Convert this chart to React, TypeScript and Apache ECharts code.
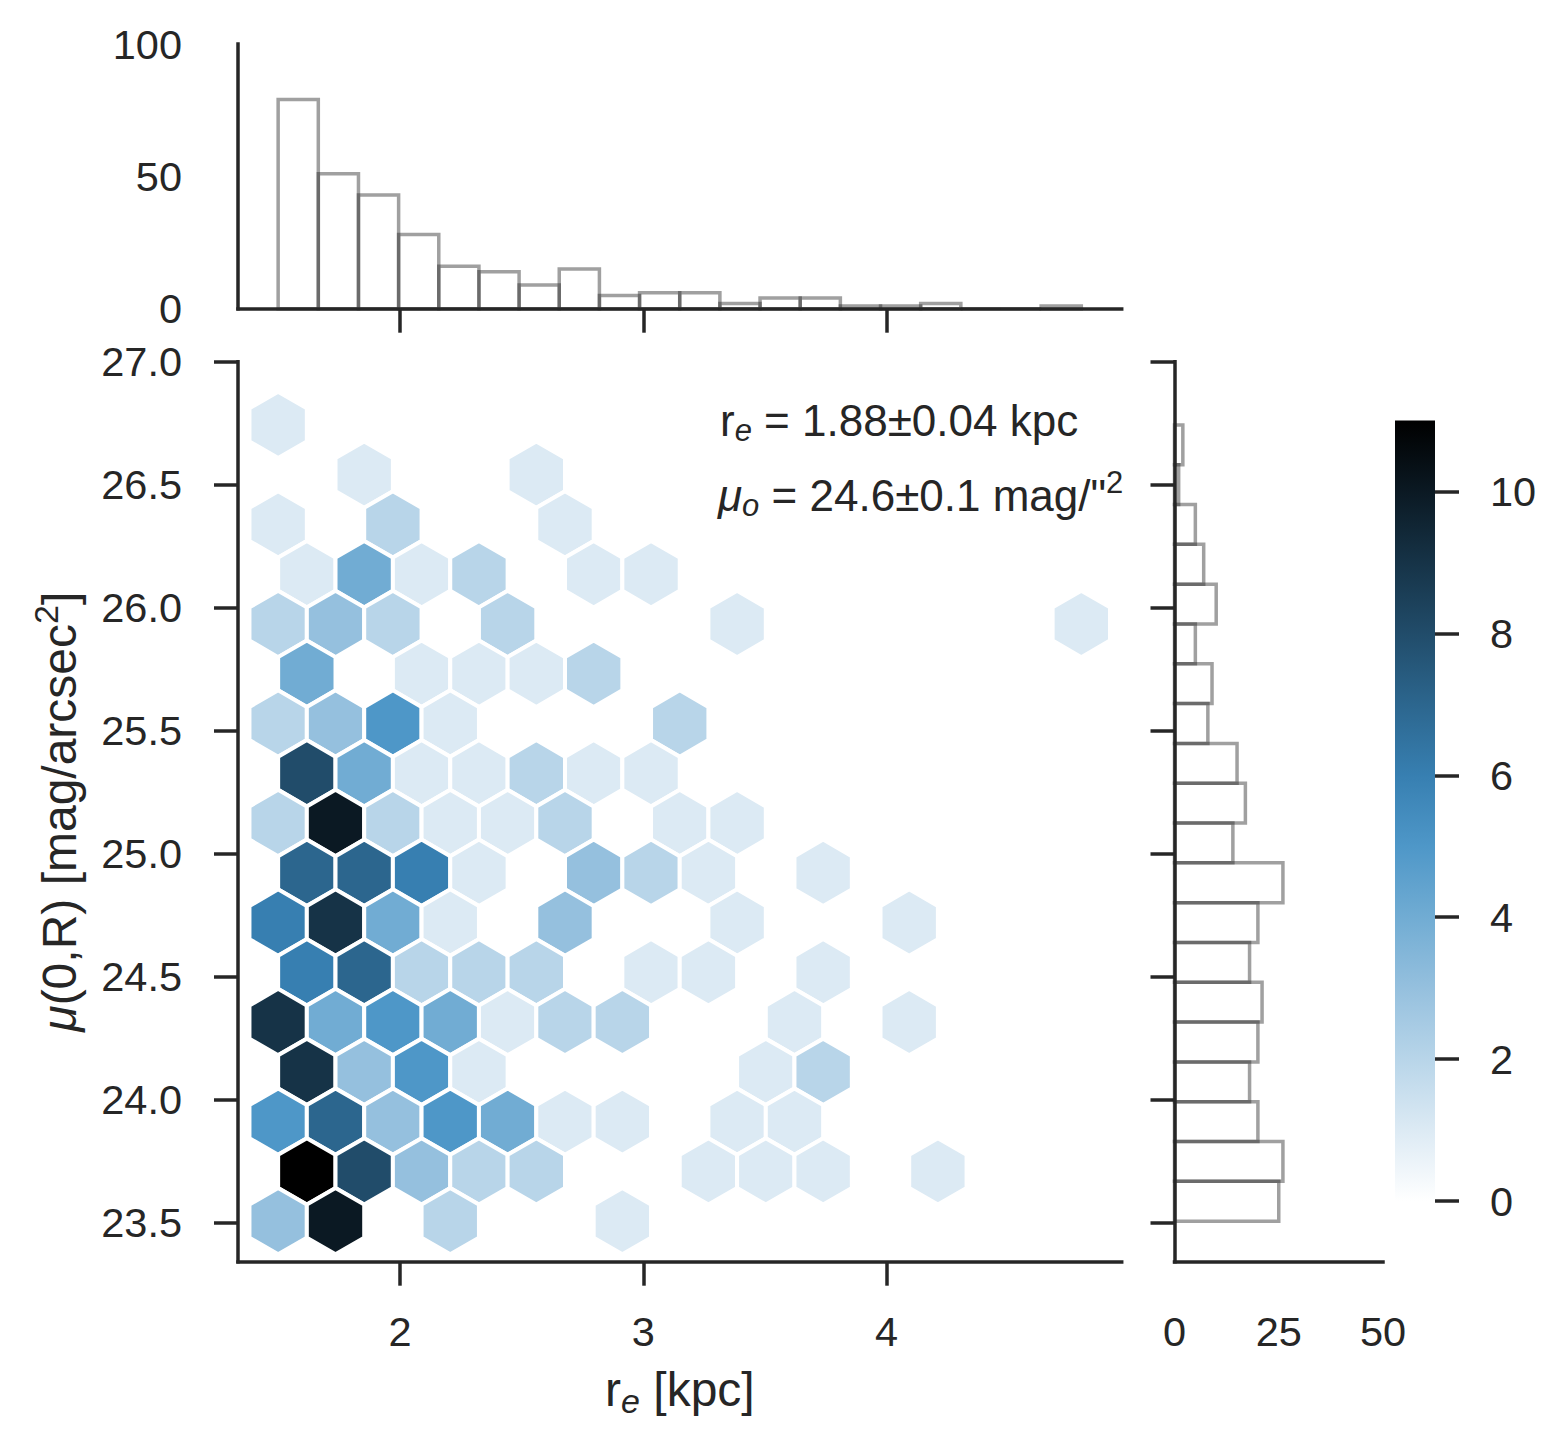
import React, { useEffect, useRef } from "react";
import * as echarts from "echarts";

const FONT = "'Liberation Sans', Arial, Helvetica, sans-serif";
const INK = "#262626";

// ---- axis extents and ticks ----
const X_RANGE = [1.334, 4.966];
const Y_RANGE = [23.34, 27.0];
const X_TICKS = [2, 3, 4];
const Y_TICKS = [23.5, 24.0, 24.5, 25.0, 25.5, 26.0, 26.5, 27.0];
const TOP_HIST_RANGE = [0, 100];
const RIGHT_HIST_RANGE = [0, 50];
const CBAR_TICKS = [0, 2, 4, 6, 8, 10];

// ---- hexbin grid (matplotlib style: gridsize 14) ----
const HEX_X_MIN = 1.499;
const HEX_X_MAX = 4.8;
const HEX_NX = 14;
const HEX_Y_MIN = 23.505;
const HEX_Y_MAX = 26.743;
const HEX_NY = 8;
const HEX_BASE_COLOR = "#3274a1";

// hex cells in half-cell units: x = xmin + col2*sx/2, y = ymin + row2*sy/2
const HEX_COL2 = [
  0,
  3, 9,
  0, 4, 10,
  1, 3, 5, 7, 11, 13,
  0, 2, 4, 8, 16, 28,
  1, 5, 7, 9, 11,
  0, 2, 4, 6, 14,
  1, 3, 5, 7, 9, 11, 13,
  0, 2, 4, 6, 8, 10, 14, 16,
  1, 3, 5, 7, 11, 13, 15, 19,
  0, 2, 4, 6, 10, 16, 22,
  1, 3, 5, 7, 9, 13, 15, 19,
  0, 2, 4, 6, 8, 10, 12, 18, 22,
  1, 3, 5, 7, 17, 19,
  0, 2, 4, 6, 8, 10, 12, 16, 18,
  1, 3, 5, 7, 9, 15, 17, 19, 23,
  0, 2, 6, 12,
];
const HEX_ROW2 = [
  16,
  15, 15,
  14, 14, 14,
  13, 13, 13, 13, 13, 13,
  12, 12, 12, 12, 12, 12,
  11, 11, 11, 11, 11,
  10, 10, 10, 10, 10,
  9, 9, 9, 9, 9, 9, 9,
  8, 8, 8, 8, 8, 8, 8, 8,
  7, 7, 7, 7, 7, 7, 7, 7,
  6, 6, 6, 6, 6, 6, 6,
  5, 5, 5, 5, 5, 5, 5, 5,
  4, 4, 4, 4, 4, 4, 4, 4, 4,
  3, 3, 3, 3, 3, 3,
  2, 2, 2, 2, 2, 2, 2, 2, 2,
  1, 1, 1, 1, 1, 1, 1, 1, 1,
  0, 0, 0, 0,
];
const HEX_COUNT = [
  1,
  1, 1,
  1, 2, 1,
  1, 4, 1, 2, 1, 1,
  2, 3, 2, 2, 1, 1,
  4, 1, 1, 1, 2,
  2, 3, 5, 1, 2,
  8, 4, 1, 1, 2, 1, 1,
  2, 10, 2, 1, 1, 2, 1, 1,
  7, 7, 6, 1, 3, 2, 1, 1,
  6, 9, 4, 1, 3, 1, 1,
  6, 7, 2, 2, 2, 1, 1, 1,
  9, 4, 5, 4, 1, 2, 2, 1, 1,
  9, 3, 5, 1, 1, 2,
  5, 7, 3, 5, 4, 1, 1, 1, 1,
  11, 8, 3, 2, 2, 1, 1, 1, 1,
  3, 10, 2, 1,
];

// ---- marginal histograms (20 bins each) ----
const TOP_HIST_MIN = 1.499;
const TOP_HIST_MAX = 4.8;
const TOP_HIST_COUNTS = [79, 51, 43, 28, 16, 14, 9, 15, 5, 6, 6, 2, 4, 4, 1, 1, 2, 0, 0, 1];
const RIGHT_HIST_MIN = 23.505;
const RIGHT_HIST_MAX = 26.743;
const RIGHT_HIST_COUNTS = [25, 26, 20, 18, 20, 21, 18, 20, 26, 14, 17, 15, 8, 9, 5, 10, 7, 5, 1, 2];

// ---- colour map: seaborn hex jointplot (lightness 1 -> 0 of the base colour) ----
function hexToRgb(h: string) {
  const n = parseInt(h.slice(1), 16);
  return [(n >> 16) & 255, (n >> 8) & 255, n & 255].map((v) => v / 255);
}
function rgbToHls(r: number, g: number, b: number) {
  const mx = Math.max(r, g, b);
  const mn = Math.min(r, g, b);
  const l = (mx + mn) / 2;
  if (mx === mn) return [0, l, 0];
  const d = mx - mn;
  const s = l <= 0.5 ? d / (mx + mn) : d / (2 - mx - mn);
  const rc = (mx - r) / d, gc = (mx - g) / d, bc = (mx - b) / d;
  let h;
  if (r === mx) h = bc - gc;
  else if (g === mx) h = 2 + rc - bc;
  else h = 4 + gc - rc;
  h = ((h / 6) % 1 + 1) % 1;
  return [h, l, s];
}
function hv(m1: number, m2: number, hue: number) {
  hue = ((hue % 1) + 1) % 1;
  if (hue < 1 / 6) return m1 + (m2 - m1) * hue * 6;
  if (hue < 0.5) return m2;
  if (hue < 2 / 3) return m1 + (m2 - m1) * (2 / 3 - hue) * 6;
  return m1;
}
function hlsToCss(h: number, l: number, s: number) {
  let rgb;
  if (s === 0) rgb = [l, l, l];
  else {
    const m2 = l <= 0.5 ? l * (1 + s) : l + s - l * s;
    const m1 = 2 * l - m2;
    rgb = [hv(m1, m2, h + 1 / 3), hv(m1, m2, h), hv(m1, m2, h - 1 / 3)];
  }
  return "rgb(" + rgb.map((v) => Math.round(Math.min(1, Math.max(0, v)) * 255)).join(",") + ")";
}
const [BH, , BS] = (() => {
  const [r, g, b] = hexToRgb(HEX_BASE_COLOR);
  return rgbToHls(r, g, b);
})();
const VMAX = Math.max(...HEX_COUNT);
function countColor(c: number) {
  const t = Math.min(1, Math.max(0, c / VMAX));
  return hlsToCss(BH, 1 - t, BS);
}

const axisLine = { show: true, onZero: false, lineStyle: { color: INK, width: 3.5, cap: "square" } };
const tick = { show: true, length: 24, lineStyle: { color: INK, width: 3.5 } };
const labelBase = { color: INK, fontFamily: FONT, fontSize: 41.5 };
const NAME_FS = 48;

function buildOption() {
  const sx = (HEX_X_MAX - HEX_X_MIN) / HEX_NX;
  const sy = (HEX_Y_MAX - HEX_Y_MIN) / HEX_NY;
  const hexData = HEX_COUNT.map((c, i) => [
    HEX_X_MIN + (HEX_COL2[i] * sx) / 2,
    HEX_Y_MIN + (HEX_ROW2[i] * sy) / 2,
    c,
  ]);
  const tw = (TOP_HIST_MAX - TOP_HIST_MIN) / TOP_HIST_COUNTS.length;
  const topData = TOP_HIST_COUNTS.map((c, i) => [TOP_HIST_MIN + i * tw, TOP_HIST_MIN + (i + 1) * tw, c]);
  const rw = (RIGHT_HIST_MAX - RIGHT_HIST_MIN) / RIGHT_HIST_COUNTS.length;
  const rightData = RIGHT_HIST_COUNTS.map((c, i) => [RIGHT_HIST_MIN + i * rw, RIGHT_HIST_MIN + (i + 1) * rw, c]);

  const gradStops = [];
  for (let i = 0; i <= VMAX; i++) {
    gradStops.push({ offset: i / VMAX, color: hlsToCss(BH, i / VMAX, BS) });
  }

  const histStroke = "rgba(38,38,38,0.44)";

  return {
    animation: false,
    backgroundColor: "#ffffff",
    textStyle: { fontFamily: FONT },
    grid: [
      { left: 238, top: 361.7, width: 883.7, height: 900 },
      { left: 238, top: 44, width: 883.7, height: 264.7 },
      { left: 1174.5, top: 361.7, width: 208.5, height: 900 },
      { left: 1395, top: 420.6, width: 40, height: 780.4 },
    ],
    xAxis: [
      {
        gridIndex: 0,
        type: "value",
        min: X_RANGE[0],
        max: X_RANGE[1],
        axisLine,
        axisTick: { ...tick, customValues: X_TICKS },
        axisLabel: { ...labelBase, margin: 49, customValues: X_TICKS, formatter: (v: number) => String(v) },
        splitLine: { show: false },
        name: "r{sub|e} [kpc]",
        nameLocation: "middle",
        nameGap: 100,
        nameTextStyle: {
          ...labelBase,
          fontSize: NAME_FS,
          lineHeight: 56,
          rich: {
            sub: { fontSize: 34, fontStyle: "italic", fontFamily: FONT, color: INK, lineHeight: 34, padding: [22, 0, 0, 0] },
          },
        },
      },
      {
        gridIndex: 1,
        type: "value",
        min: X_RANGE[0],
        max: X_RANGE[1],
        axisLine,
        axisTick: { ...tick, customValues: X_TICKS },
        axisLabel: { show: false, customValues: X_TICKS },
        splitLine: { show: false },
      },
      {
        gridIndex: 2,
        type: "value",
        min: RIGHT_HIST_RANGE[0],
        max: RIGHT_HIST_RANGE[1],
        interval: 25,
        axisLine,
        axisTick: { show: false },
        axisLabel: { ...labelBase, margin: 49 },
        splitLine: { show: false },
      },
      {
        gridIndex: 3,
        type: "value",
        min: 0,
        max: 1,
        show: false,
      },
    ],
    yAxis: [
      {
        gridIndex: 0,
        type: "value",
        min: Y_RANGE[0],
        max: Y_RANGE[1],
        axisLine,
        axisTick: { ...tick, customValues: Y_TICKS },
        axisLabel: { ...labelBase, margin: 56, customValues: Y_TICKS, formatter: (v: number) => v.toFixed(1) },
        splitLine: { show: false },
        name: "{mu|μ}(0,R) [mag/arcsec{sup|2}]",
        nameLocation: "middle",
        nameRotate: 90,
        nameGap: 144,
        nameTextStyle: {
          ...labelBase,
          fontSize: NAME_FS,
          lineHeight: 62,
          rich: {
            mu: { fontSize: NAME_FS, fontStyle: "italic", fontFamily: FONT, color: INK, lineHeight: 62 },
            sup: { fontSize: 34, fontFamily: FONT, color: INK, lineHeight: 34, padding: [0, 0, 26, 0] },
          },
        },
      },
      {
        gridIndex: 1,
        type: "value",
        min: TOP_HIST_RANGE[0],
        max: TOP_HIST_RANGE[1],
        interval: 50,
        axisLine,
        axisTick: { show: false },
        axisLabel: { ...labelBase, margin: 56 },
        splitLine: { show: false },
      },
      {
        gridIndex: 2,
        type: "value",
        min: Y_RANGE[0],
        max: Y_RANGE[1],
        axisLine,
        axisTick: { ...tick, customValues: Y_TICKS },
        axisLabel: { show: false, customValues: Y_TICKS },
        splitLine: { show: false },
      },
      {
        gridIndex: 3,
        type: "value",
        position: "right",
        min: 0,
        max: VMAX,
        z: 5,
        axisLine: { show: false, onZero: false },
        axisTick: { ...tick, inside: false, customValues: CBAR_TICKS },
        axisLabel: { ...labelBase, margin: 55, customValues: CBAR_TICKS, formatter: (v: number) => String(v) },
        splitLine: { show: false },
      },
    ],
    series: [
      {
        type: "custom",
        name: "hexbin",
        xAxisIndex: 0,
        yAxisIndex: 0,
        data: hexData,
        renderItem: (params: any, api: any) => {
          const cx = api.value(0);
          const cy = api.value(1);
          const c = api.value(2);
          const offs = [
            [0.5, -1 / 6],
            [0.5, 1 / 6],
            [0, 1 / 3],
            [-0.5, 1 / 6],
            [-0.5, -1 / 6],
            [0, -1 / 3],
          ];
          const pts = offs.map(([a, b]) => api.coord([cx + a * sx, cy + b * sy]));
          return {
            type: "polygon",
            shape: { points: pts },
            style: { fill: countColor(c), stroke: "#ffffff", lineWidth: 4, lineJoin: "miter" },
          };
        },
      },
      {
        type: "custom",
        name: "topHist",
        xAxisIndex: 1,
        yAxisIndex: 1,
        data: topData,
        renderItem: (params: any, api: any) => {
          const p0 = api.coord([api.value(0), api.value(2)]);
          const p1 = api.coord([api.value(1), 0]);
          return {
            type: "rect",
            shape: { x: p0[0], y: p0[1], width: p1[0] - p0[0], height: p1[1] - p0[1] },
            style: { fill: "none", stroke: histStroke, lineWidth: 3.5 },
          };
        },
      },
      {
        type: "custom",
        name: "rightHist",
        xAxisIndex: 2,
        yAxisIndex: 2,
        data: rightData,
        renderItem: (params: any, api: any) => {
          const p0 = api.coord([0, api.value(1)]);
          const p1 = api.coord([api.value(2), api.value(0)]);
          return {
            type: "rect",
            shape: { x: p0[0], y: p0[1], width: p1[0] - p0[0], height: p1[1] - p0[1] },
            style: { fill: "none", stroke: histStroke, lineWidth: 3.5 },
          };
        },
      },
      {
        type: "custom",
        name: "colorbar",
        xAxisIndex: 3,
        yAxisIndex: 3,
        z: 1,
        data: [[0, VMAX]],
        renderItem: (params: any, api: any) => {
          const p0 = api.coord([0, VMAX]);
          const p1 = api.coord([1, 0]);
          return {
            type: "rect",
            shape: { x: p0[0], y: p0[1], width: p1[0] - p0[0], height: p1[1] - p0[1] },
            style: { fill: new echarts.graphic.LinearGradient(0, 0, 0, 1, gradStops), stroke: null },
          };
        },
      },
    ],
    graphic: [
      {
        type: "text",
        left: 720,
        top: 392,
        style: {
          text: "r{sub|e} = 1.88±0.04 kpc",
          fontSize: 44,
          fontFamily: FONT,
          fill: INK,
          lineHeight: 56,
          rich: {
            sub: { fontSize: 31, fontStyle: "italic", fontFamily: FONT, fill: INK, lineHeight: 31, padding: [21, 0, 0, 0] },
          },
        },
      },
      {
        type: "text",
        left: 718,
        top: 467,
        style: {
          text: "{mu|μ}{sub|o} = 24.6±0.1 mag/\"{sup|2}",
          fontSize: 44,
          fontFamily: FONT,
          fill: INK,
          lineHeight: 56,
          rich: {
            mu: { fontSize: 44, fontStyle: "italic", fontFamily: FONT, fill: INK, lineHeight: 56 },
            sub: { fontSize: 31, fontStyle: "italic", fontFamily: FONT, fill: INK, lineHeight: 31, padding: [21, 0, 0, 0] },
            sup: { fontSize: 31, fontFamily: FONT, fill: INK, lineHeight: 31, padding: [0, 0, 25, 0] },
          },
        },
      },
    ],
  };
}

export default function App() {
  const ref = useRef<HTMLDivElement>(null);
  useEffect(() => {
    document.body.style.margin = "0";
    const chart = echarts.init(ref.current as HTMLDivElement, null, { renderer: "svg" });
    chart.setOption(buildOption() as any);
    return () => chart.dispose();
  }, []);
  return (
    <div
      ref={ref}
      style={{ position: "absolute", left: 0, top: 0, width: 1564, height: 1447, background: "#ffffff" }}
    />
  );
}
